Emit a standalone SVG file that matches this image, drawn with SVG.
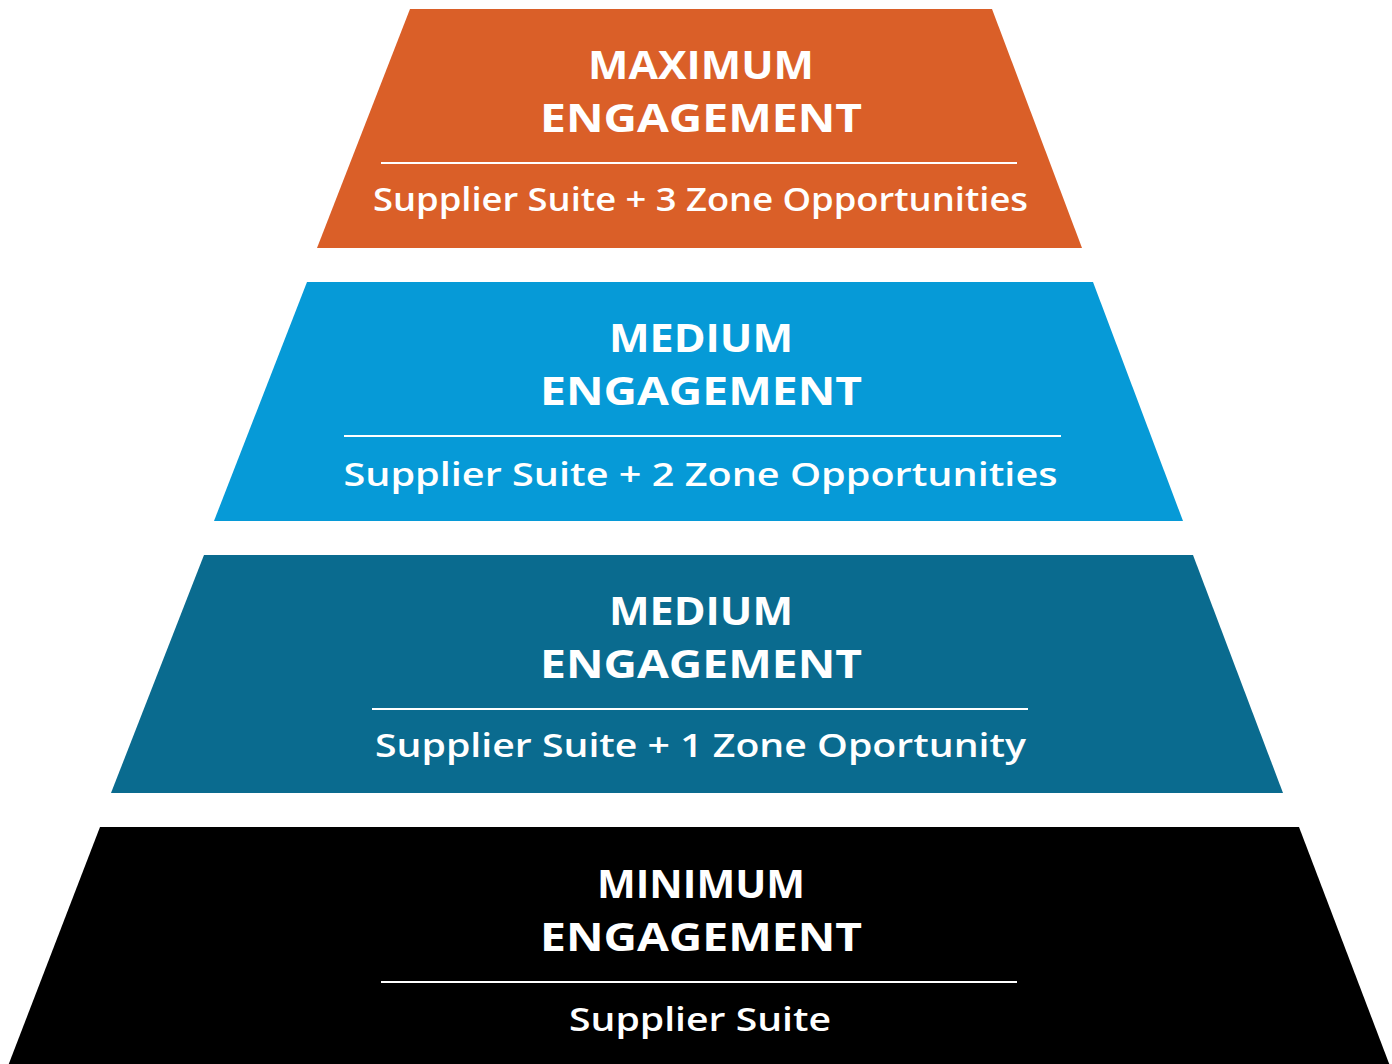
<svg xmlns="http://www.w3.org/2000/svg" width="1392" height="1064" viewBox="0 0 1392 1064">
<style>
.t{font-family:"Open Sans","Liberation Sans",sans-serif;font-weight:700;font-size:39px;fill:#fff;text-anchor:middle}
.s{font-family:"Open Sans","Liberation Sans",sans-serif;font-weight:600;font-size:32px;fill:#fff;text-anchor:middle}
.l{stroke:#fff;stroke-width:2.2}
</style>
<rect width="1392" height="1064" fill="#fff"/>
<g id="tier-max">
<polygon points="410,9 992,9 1082,248 317,248" fill="#DA5F28"/>
<text class="t" x="701" y="79" textLength="226" lengthAdjust="spacingAndGlyphs">MAXIMUM</text>
<text class="t" x="701" y="132" textLength="322" lengthAdjust="spacingAndGlyphs">ENGAGEMENT</text>
<line class="l" x1="381" y1="163" x2="1017" y2="163"/>
<text class="s" x="700.5" y="211" textLength="655" lengthAdjust="spacingAndGlyphs">Supplier Suite + 3 Zone Opportunities</text>
</g>
<g id="tier-medium-2">
<polygon points="307,282 1093,282 1183,521 214,521" fill="#069AD7"/>
<text class="t" x="701" y="352" textLength="184" lengthAdjust="spacingAndGlyphs">MEDIUM</text>
<text class="t" x="701" y="405" textLength="322" lengthAdjust="spacingAndGlyphs">ENGAGEMENT</text>
<line class="l" x1="344" y1="436" x2="1061" y2="436"/>
<text class="s" x="700.5" y="486" textLength="714" lengthAdjust="spacingAndGlyphs">Supplier Suite + 2 Zone Opportunities</text>
</g>
<g id="tier-medium-1">
<polygon points="204,555 1193,555 1283,793 111,793" fill="#0A6B8F"/>
<text class="t" x="701" y="625" textLength="184" lengthAdjust="spacingAndGlyphs">MEDIUM</text>
<text class="t" x="701" y="678" textLength="322" lengthAdjust="spacingAndGlyphs">ENGAGEMENT</text>
<line class="l" x1="372" y1="709" x2="1028" y2="709"/>
<text class="s" x="700.5" y="757" textLength="651" lengthAdjust="spacingAndGlyphs">Supplier Suite + 1 Zone Oportunity</text>
</g>
<g id="tier-min">
<polygon points="100,827 1299,827 1390,1066 8,1066" fill="#000"/>
<text class="t" x="701" y="898" textLength="208" lengthAdjust="spacingAndGlyphs">MINIMUM</text>
<text class="t" x="701" y="951" textLength="322" lengthAdjust="spacingAndGlyphs">ENGAGEMENT</text>
<line class="l" x1="381" y1="982" x2="1017" y2="982"/>
<text class="s" x="700" y="1031" textLength="262" lengthAdjust="spacingAndGlyphs">Supplier Suite</text>
</g>
<g id="connectors"/>
</svg>
